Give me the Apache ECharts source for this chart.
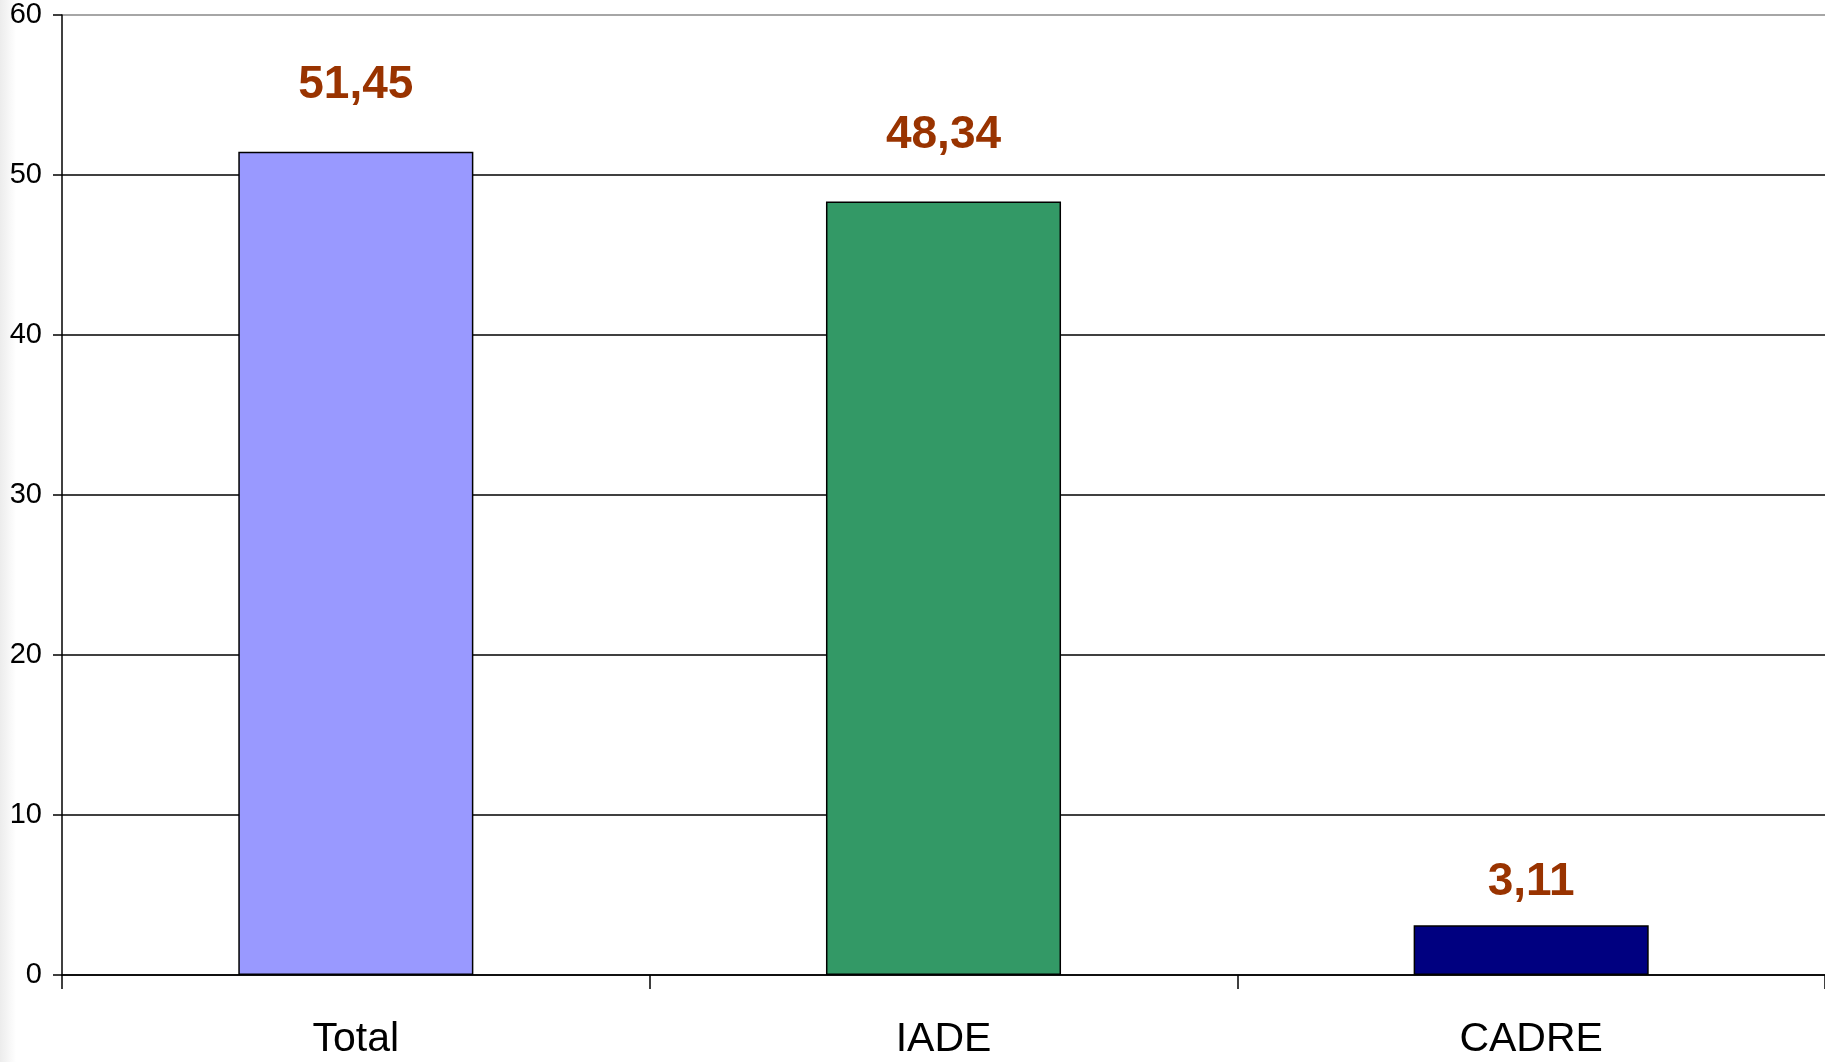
<!DOCTYPE html>
<html style="height: 100%">
<head>
  <meta charset="utf-8">
  <title>Total / IADE / CADRE</title>
  <script src="https://cdn.jsdelivr.net/npm/echarts@6/dist/echarts.min.js"></script>
</head>
<body style="height: 100%; margin: 0; background: #fff">
  <div id="main" style="width: 1825px; height: 1062px"></div>
  <script type="text/javascript">
    var categories = ['Total', 'IADE', 'CADRE'];
    var values = [51.45, 48.34, 3.11];
    var barColors = ['#9999FF', '#339966', '#000080'];
    var yTicks = { min: 0, max: 60, interval: 10 };
    // the small bar's label sits closer to its bar in the original
    var labelGaps = [43, 43, 20];

    var font = '"Liberation Sans", Arial, sans-serif';

    var option = {
      animation: false,
      textStyle: { fontFamily: font },
      graphic: [{
        type: 'rect',
        left: 0, top: 0,
        shape: { width: 16, height: 1062 },
        style: {
          fill: {
            type: 'linear', x: 0, y: 0, x2: 1, y2: 0,
            colorStops: [{ offset: 0, color: '#ececec' }, { offset: 1, color: '#ffffff' }]
          }
        },
        z: -1
      }],
      grid: { left: 62, right: 0, top: 15, bottom: 87 },
      xAxis: {
        type: 'category',
        data: categories,
        axisLine: { lineStyle: { color: '#000', width: 1.5 } },
        axisTick: { show: true, length: 14, alignWithLabel: false, lineStyle: { color: '#000', width: 1.5 } },
        axisLabel: { color: '#000', fontSize: 41, margin: 44, fontFamily: font }
      },
      yAxis: {
        type: 'value',
        min: yTicks.min,
        max: yTicks.max,
        interval: yTicks.interval,
        axisLine: { show: true, lineStyle: { color: '#000', width: 1.5 } },
        axisTick: { show: true, length: 9, lineStyle: { color: '#000', width: 1.5 } },
        axisLabel: { color: '#000', fontSize: 29, margin: 20, fontFamily: font },
        splitLine: {
          lineStyle: {
            color: ['#000', '#000', '#000', '#000', '#000', '#000', '#888'],
            width: 1.5
          }
        }
      },
      series: [{
        type: 'bar',
        barWidth: '40%',
        data: values.map(function (v, i) {
          return {
            value: v,
            itemStyle: { color: barColors[i] },
            label: { distance: labelGaps[i] }
          };
        }),
        itemStyle: { borderColor: '#000', borderWidth: 1.5 },
        label: {
          show: true,
          position: 'top',
          color: '#993300',
          fontWeight: 'bold',
          fontSize: 46,
          fontFamily: font,
          formatter: function (p) {
            return p.value.toFixed(2).replace('.', ',');
          }
        }
      }]
    };

    var chart = echarts.init(document.getElementById('main'));
    chart.setOption(option);
  </script>
</body>
</html>
